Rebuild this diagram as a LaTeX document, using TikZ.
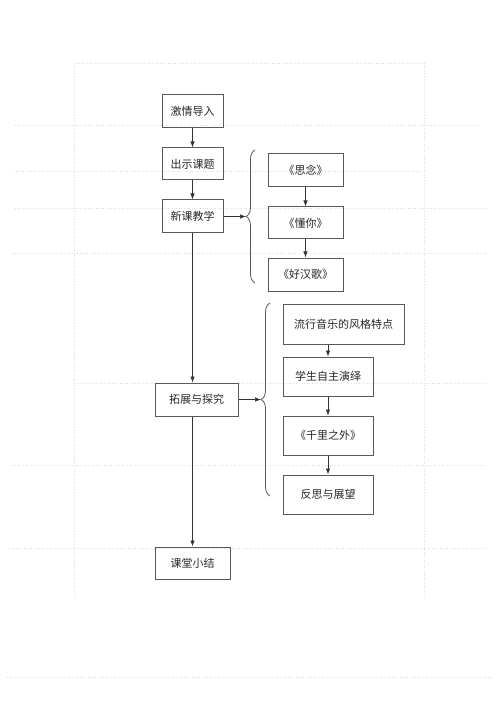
\documentclass[tikz,border=0pt]{standalone}
\usepackage{fontspec}
\setmainfont{Noto Sans CJK SC}
\usepackage{tikz}
\usetikzlibrary{positioning}
\usetikzlibrary{decorations.pathreplacing}
\usetikzlibrary{arrows.meta}

\tikzset{
  stage/.style={draw=black!65, line width=1pt, text=black!85,
    font=\fontsize{11}{13}\selectfont, minimum height=33pt, inner sep=2pt},
  link/.style={draw=black!80, line width=0.7pt, -{Latex[length=6pt,width=4.5pt]}},
  gridline/.style={draw=black!13, dotted, line width=0.6pt},
  bracket/.style={draw=black!65, line width=0.8pt, decorate,
    decoration={brace, amplitude=9pt}}
}

\begin{document}
\begin{tikzpicture}[x=1pt, y=-1pt]
  \useasboundingbox (0,0) rectangle (500,708);

  % Faint page grid
  \draw[gridline] (74,63) -- (424,63);
  \draw[gridline] (74,63) -- (74,598);
  \draw[gridline] (424,63) -- (424,598);
  \foreach \y/\xa/\xb in {125/15/480, 171/13/420, 208/15/487, 253/12/487,
                          383/78/485, 465/10/485, 548/8/485, 677/7/492}
    \draw[gridline] (\xa,\y) -- (\xb,\y);

  % Main flow
  \node[stage, minimum width=61pt] (jq) at (192.5,111.5) {激情导入};
  \node[stage, minimum width=61pt, minimum height=32pt] (cs) at (192.5,164) {出示课题};
  \node[stage, minimum width=61pt] (xk) at (192.5,216.5) {新课教学};
  \node[stage, minimum width=83pt] (tz) at (196.5,399.5) {拓展与探究};
  \node[stage, minimum width=75pt, minimum height=32pt] (kt) at (192.5,563) {课堂小结};

  \draw[link] (jq) -- (cs);
  \draw[link] (cs) -- (xk);
  \draw[link] (xk.south) -- (xk.south |- tz.north);
  \draw[link] (kt.north |- tz.south) -- (kt.north);

  % Songs of the new lesson
  \node[stage, minimum width=75pt] (sn) at (305.5,170.5) {《思念》};
  \node[stage, minimum width=75pt, minimum height=32pt] (dn) at (305.5,223) {《懂你》};
  \node[stage, minimum width=75pt] (hh) at (305.5,274.5) {《好汉歌》};

  \draw[link] (sn) -- (dn);
  \draw[link] (dn) -- (hh);

  \draw[bracket] (255,283) -- (255,150);
  \coordinate (tip1) at (246,216.5);
  \draw[link] (xk.east) -- (tip1);

  % Extension and inquiry
  \node[stage, minimum width=121pt, minimum height=40pt] (lx) at (343.5,324) {流行音乐的风格特点};
  \node[stage, minimum width=90pt, minimum height=39pt] (xs) at (328,376.5) {学生自主演绎};
  \node[stage, minimum width=90pt, minimum height=39pt] (ql) at (328,435.5) {《千里之外》};
  \node[stage, minimum width=90pt, minimum height=39pt] (fs) at (328,494.5) {反思与展望};

  \draw[link] (xs.north |- lx.south) -- (xs.north);
  \draw[link] (xs) -- (ql);
  \draw[link] (ql) -- (fs);

  \draw[bracket] (270,496) -- (270,303);
  \coordinate (tip2) at (261,399.5);
  \draw[link] (tz.east) -- (tip2);

\end{tikzpicture}
\end{document}
